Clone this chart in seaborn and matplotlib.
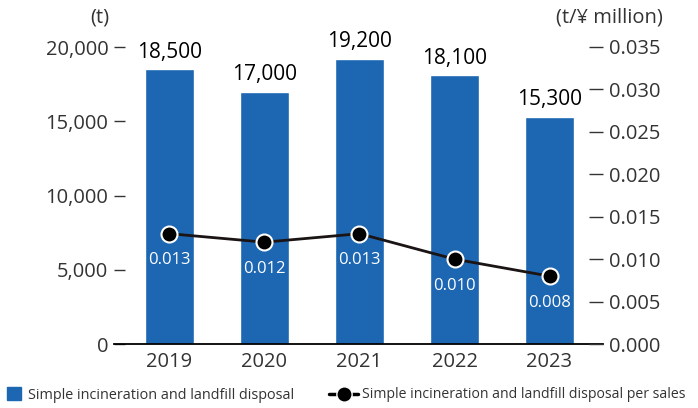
import matplotlib.pyplot as plt
import seaborn as sns
import pandas as pd
from matplotlib.lines import Line2D
from matplotlib.patches import Patch

# datos
years = ["2019", "2020", "2021", "2022", "2023"]
disposal = [18500, 17000, 19200, 18100, 15300]
per_sales = [0.013, 0.012, 0.013, 0.010, 0.008]
left_ticks = [0, 5000, 10000, 15000, 20000]
right_ticks = [0.000, 0.005, 0.010, 0.015, 0.020, 0.025, 0.030, 0.035]

df = pd.DataFrame({"year": years, "disposal": disposal, "per_sales": per_sales})

sns.set_theme(style="white")
plt.rcParams["font.family"] = ["Open Sans", "DejaVu Sans"]
blue = "#1c66b2"
grey = "#333333"

fig = plt.figure(figsize=(6.98, 4.08), dpi=100)
ax = fig.add_axes([114 / 698, 64 / 408, 489 / 698, 297 / 408])

sns.barplot(data=df, x="year", y="disposal", color=blue, width=0.516,
            saturation=1, ax=ax)
ax.set_xlim(-0.584, 4.563)
ax.set_ylim(0, 20000)
ax.set_yticks(left_ticks)
ax.set_yticklabels([f"{v:,}" for v in left_ticks])
ax.set_xlabel("")
ax.set_ylabel("")
for s in ["left", "right", "top"]:
    ax.spines[s].set_visible(False)
ax.spines["bottom"].set_color("black")
ax.spines["bottom"].set_linewidth(1.3)
ax.tick_params(axis="y", direction="in", length=8, width=1, color=grey,
               labelsize=14.5, labelcolor=grey, pad=4)
ax.tick_params(axis="x", length=0, labelsize=14.5, labelcolor=grey, pad=6)

for i, v in enumerate(disposal):
    ax.text(i, v + 450, f"{v:,}", ha="center", va="bottom", fontsize=15,
            color="black", clip_on=False)

ax2 = ax.twinx()
sns.lineplot(x=df["year"], y=df["per_sales"], ax=ax2, color="#1a1414",
             linewidth=2, marker="o", markersize=11.5, markerfacecolor="black",
             markeredgecolor="white", markeredgewidth=1.5)
ax2.set_ylim(0, 0.035)
ax2.set_yticks(right_ticks)
ax2.set_yticklabels([f"{v:.3f}" for v in right_ticks])
ax2.set_ylabel("")
ax2.set_xlabel("")
for s in ["left", "right", "top", "bottom"]:
    ax2.spines[s].set_visible(False)
ax2.tick_params(axis="y", direction="in", length=10, width=1, color=grey,
                labelsize=14.5, labelcolor=grey, pad=4)

for i, v in enumerate(per_sales):
    ax2.annotate(f"{v:.3f}", (i, v), xytext=(0, -19), textcoords="offset points",
                 ha="center", va="center", fontsize=12, color="white")

fig.text(100 / 698, 1 - 17 / 408, "(t)", ha="center", va="center",
         fontsize=14.5, color=grey)
fig.text(663 / 698, 1 - 17 / 408, "(t/¥ million)", ha="right", va="center",
         fontsize=14.5, color=grey)

# leyenda
fig.legend([Patch(facecolor=blue, edgecolor=blue)],
           ["Simple incineration and landfill disposal"],
           loc="center left", bbox_to_anchor=(4 / 698, 1 - 395 / 408),
           frameon=False, fontsize=10.4, labelcolor=grey,
           handlelength=0.95, handleheight=0.95, handletextpad=0.5,
           borderaxespad=0, borderpad=0.2)
fig.legend([Line2D([], [], color="black", linewidth=2.5, marker="o",
                   markersize=11, markerfacecolor="black",
                   markeredgecolor="white", markeredgewidth=1)],
           ["Simple incineration and landfill disposal per sales"],
           loc="center left", bbox_to_anchor=(326 / 698, 1 - 395 / 408),
           frameon=False, fontsize=10.1, labelcolor=grey,
           handlelength=2.1, handletextpad=0.25,
           borderaxespad=0, borderpad=0.2)

fig.savefig("out.png", dpi=100)
